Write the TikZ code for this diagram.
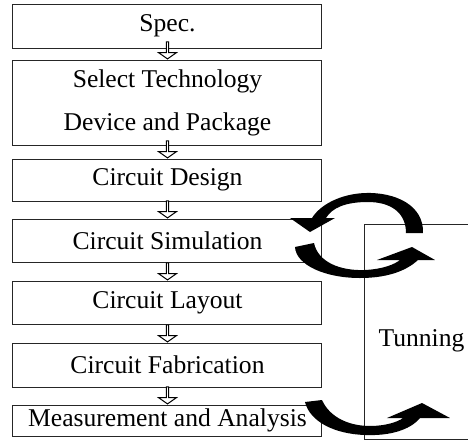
\documentclass[tikz,border=0pt]{standalone}
\usepackage{fontspec}
\setmainfont{Liberation Serif}
\usetikzlibrary{positioning,shapes.arrows}
\tikzset{
  stagebox/.style={rectangle, draw=black!85, line width=0.5pt, align=center, inner sep=0pt,
               minimum width=154.5pt, font=\fontsize{12.8}{21.5}\selectfont},
  downarr/.style={single arrow, draw=black, fill=white, line width=0.5pt, inner sep=0pt,
               shape border rotate=270, minimum height=8.5pt, minimum width=9pt,
               single arrow head extend=1.6pt, single arrow tip angle=110, anchor=tip},
  curvarr/.style={fill=black},
}

\begin{document}
\begin{tikzpicture}[x=0.5pt, y=-0.5pt]
            \useasboundingbox (0,0) rectangle (468,441);
            \clip (0,0) rectangle (468,441);
            \node[stagebox,minimum height=22pt](spec) at (167.5,26){Spec.};
            \node[stagebox,minimum height=42.5pt,below=5.5pt of spec](sel){Select Technology\\Device and Package};
            \node[stagebox,minimum height=21pt,below=6.5pt of sel](des){Circuit Design};
            \node[stagebox,minimum height=21.5pt,below=8.5pt of des](sim){Circuit Simulation};
            \node[stagebox,minimum height=21.5pt,below=9pt of sim](lay){Circuit Layout};
            \node[stagebox,minimum height=22pt,below=9pt of lay](fab){Circuit Fabrication};
            \node[stagebox,minimum height=15.5pt,below=8.5pt of fab](meas){Measurement and Analysis};
            \node[downarr](a1) at (sel.north){};\node[downarr](a2) at (des.north){};\node[downarr](a3) at (sim.north){};
            \node[downarr](a4) at (lay.north){};\node[downarr](a5) at (fab.north){};\node[downarr](a6) at (meas.north){};
            \node[draw=black!85,line width=0.5pt,anchor=north west,minimum width=58pt,minimum height=107.5pt](tunebox) at (364,224){};
            \node[font=\fontsize{12.8}{15}\selectfont](tune) at (421.5,341){Tunning};
            \fill[curvarr] (423,233) .. controls (424,205) and (395,192) .. (365,193) .. controls (340,194) and (320,205) .. (312,218) -- (290,218) -- (310,232) -- (335,218) -- (326,218) .. controls (332,208) and (345,202) .. (368,202) .. controls (390,202) and (406,212) .. (406,233) -- cycle;
            \fill[curvarr] (295,247) -- (314,243) .. controls (318,262) and (340,271) .. (365,270) .. controls (384,269) and (395,264) .. (400,260) -- (377,260) -- (412,247) -- (435,260) -- (418,260) .. controls (405,272) and (385,278) .. (360,278) .. controls (325,278) and (296,265) .. (295,247) -- cycle;
            \fill[curvarr] (305,402) -- (322,400) .. controls (330,418) and (350,426) .. (370,426) .. controls (385,426) and (398,422) .. (403,418) -- (387,418) -- (422,403) -- (450,418) -- (420,418) .. controls (410,430) and (390,436) .. (365,435) .. controls (335,434) and (310,422) .. (305,402) -- cycle;
        \end{tikzpicture}
\end{document}
